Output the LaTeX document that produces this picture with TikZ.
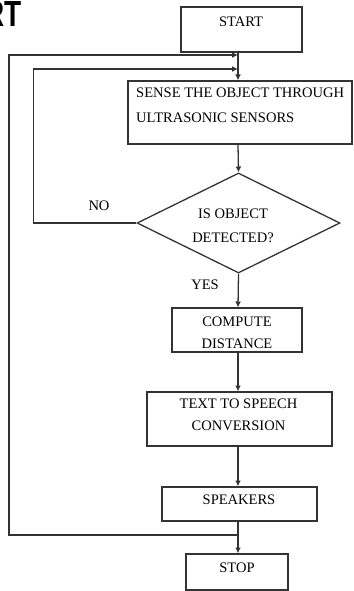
\documentclass[tikz,border=0pt]{standalone}
\usepackage{fontspec}
\setmainfont{Liberation Serif}
\newfontfamily\headfont{Liberation Sans}
\usetikzlibrary{shapes.geometric,arrows.meta}
\begin{document}
\begin{tikzpicture}[x=0.03cm, y=-0.03cm,
    box/.style={draw=black!80, line width=1.1pt, rectangle, inner sep=0pt},
    decision/.style={draw=black!80, line width=1.1pt, diamond, inner sep=0pt},
    txt/.style={font=\fontsize{12.4}{19}\selectfont, align=center, inner sep=0pt},
    flow/.style={draw=black!80, line width=1.1pt, -{Latex[length=5pt,width=5pt]}}]
    \useasboundingbox (0,0) rectangle (353,591);

    % Heading (cut off at the edge)
    \node[font=\headfont\bfseries\fontsize{31}{31}\selectfont, xscale=0.77, anchor=base east, inner sep=0pt] (head) at (22,27) {RT};

    % Start
    \node[box, minimum width=3.63cm, minimum height=1.35cm] (start) at (241.5,29.5) {};
    \node[txt] (startT) at (241,22) {START};

    % Sense
    \node[box, minimum width=6.72cm, minimum height=1.89cm] (sense) at (240,112.5) {};
    \node[txt, align=left, anchor=west, font=\fontsize{12.4}{21}\selectfont] (senseT) at (136,105.5) {SENSE THE OBJECT THROUGH\\ULTRASONIC SENSORS};

    % Decision
    \node[decision, minimum width=6.09cm, minimum height=3cm] (detect) at (238.5,223) {};
    \node[txt, font=\fontsize{12.4}{20}\selectfont] (detectT) at (233,226) {IS OBJECT\\DETECTED?};
    \node[txt] (no) at (99,206) {NO};
    \node[txt] (yes) at (205,285) {YES};

    % Compute
    \node[box, minimum width=3.9cm, minimum height=1.32cm] (compute) at (237,330) {};
    \node[txt] (computeT) at (237,332.5) {COMPUTE\\DISTANCE};

    % Text to speech
    \node[box, minimum width=5.55cm, minimum height=1.62cm] (tts) at (239.5,419) {};
    \node[txt] (ttsT) at (238.5,415) {TEXT TO SPEECH\\CONVERSION};

    % Speakers
    \node[box, minimum width=4.65cm, minimum height=1.02cm] (speakers) at (239.5,504) {};
    \node[txt] (speakersT) at (239,500) {SPEAKERS};

    % Stop
    \node[box, minimum width=3.06cm, minimum height=1.08cm] (stop) at (237,572) {};
    \node[txt] (stopT) at (237,568) {STOP};

    % Main flow
    \coordinate (axis) at (238,0);
    \coordinate (back1) at (238,55);
    \coordinate (back2) at (238,69);
    \coordinate (split) at (238,535);
    \draw[flow] (start.south -| axis) -- (sense.north -| axis);
    \draw[flow] (sense.south -| axis) -- (detect.north);
    \draw[flow] (detect.south) -- (compute.north -| axis);
    \draw[flow] (compute.south -| axis) -- (tts.north -| axis);
    \draw[flow] (tts.south -| axis) -- (speakers.north -| axis);
    \draw[flow] (speakers.south -| axis) -- (stop.north -| axis);

    % Loops back
    \draw[flow] (detect.west) -- ++(-103,0) |- (back2);
    \draw[flow] (split) -- ++(-229,0) |- (back1);
\end{tikzpicture}
\end{document}
